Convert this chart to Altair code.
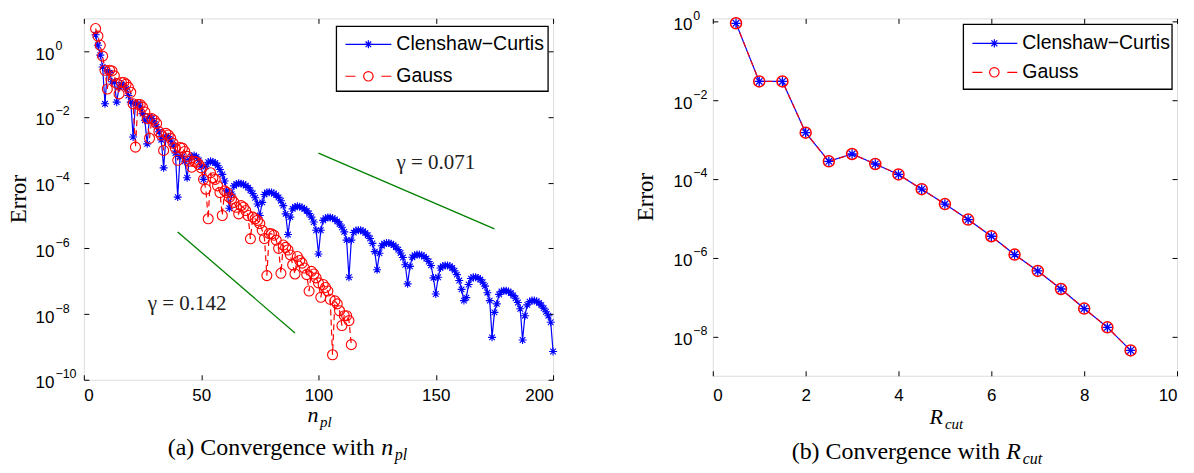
import altair as alt
import pandas as pd

# ---------------- data ----------------
series_names = ["Clenshaw−Curtis", "Gauss"]

# (a) error vs n_pl  (values are log10 of the error)
npl_cc = list(range(5, 201))
cc_log10_err = [
    0.50, 0.18, -0.12, -0.48, -1.60, -0.60, -0.65, -0.93, -0.95, -1.55,      # 5-14
    -1.09, -1.00, -1.05, -1.15, -1.35, -1.55, -2.61, -1.60, -1.60, -1.70,    # 15-24
    -1.90, -2.10, -2.82, -2.00, -2.05, -2.15, -2.30, -2.45, -2.70, -3.55,    # 25-34
    -2.60, -2.60, -2.70, -2.85, -3.10, -4.44, -3.20, -3.20, -3.35, -3.85,    # 35-44
    -3.30, -3.20, -3.17, -3.22, -3.32, -3.50, -3.90, -3.50, -3.38, -3.35,    # 45-54
    -3.37, -3.40, -3.48, -3.60, -3.75, -3.95, -4.25, -4.78, -4.35, -4.10,    # 55-64
    -4.04, -4.02, -4.03, -4.05, -4.09, -4.15, -4.23, -4.33, -4.46, -4.65,    # 65-74
    -5.00, -4.60, -4.36, -4.30, -4.29, -4.30, -4.33, -4.38, -4.45, -4.55,    # 75-84
    -4.70, -4.95, -5.58, -5.05, -4.80, -4.74, -4.72, -4.73, -4.76, -4.80,    # 85-94
    -4.86, -4.94, -5.05, -5.20, -5.45, -6.17, -5.45, -5.15, -5.08, -5.06,    # 95-104
    -5.06, -5.08, -5.12, -5.18, -5.26, -5.36, -5.50, -5.75, -6.88, -5.75,    # 105-114
    -5.52, -5.46, -5.45, -5.45, -5.48, -5.53, -5.60, -5.70, -5.85, -6.10,    # 115-124
    -6.65, -6.15, -5.92, -5.86, -5.84, -5.84, -5.86, -5.90, -5.96, -6.04,    # 125-134
    -6.14, -6.28, -6.50, -7.08, -6.55, -6.27, -6.21, -6.19, -6.19, -6.21,    # 135-144
    -6.25, -6.31, -6.40, -6.52, -6.90, -7.39, -6.88, -6.60, -6.54, -6.52,    # 145-154
    -6.52, -6.54, -6.60, -6.68, -6.80, -6.98, -7.25, -7.59, -7.50, -7.10,    # 155-164
    -6.92, -6.88, -6.88, -6.90, -6.95, -7.03, -7.15, -7.35, -7.59, -8.71,    # 165-174
    -7.95, -7.69, -7.40, -7.31, -7.29, -7.29, -7.31, -7.36, -7.43, -7.52,    # 175-184
    -7.65, -7.84, -8.79, -8.05, -7.72, -7.62, -7.59, -7.59, -7.61, -7.66,    # 185-194
    -7.73, -7.82, -7.93, -8.05, -8.25, -9.14,                                # 195-200
]
npl_gauss = list(range(5, 115))
gauss_log10_err = [
    0.69, 0.46, 0.18, -0.15, -0.58, -1.15, -0.58, -0.60, -0.75, -0.98,      # 5-14
    -1.30, -0.95, -0.95, -1.00, -1.10, -1.25, -1.60, -2.92, -1.62, -1.62,    # 15-24
    -1.70, -1.85, -2.05, -2.65, -2.05, -2.10, -2.20, -2.45, -2.55, -3.02,    # 25-34
    -2.50, -2.55, -2.65, -2.80, -2.95, -3.32, -2.93, -2.95, -3.05, -3.20,    # 35-44
    -3.35, -3.53, -3.35, -3.38, -3.45, -3.55, -3.90, -4.20, -5.10, -3.70,    # 45-54
    -3.85, -3.90, -4.10, -4.30, -5.00, -4.25, -4.30, -4.45, -4.50, -4.60,    # 55-64
    -4.75, -4.95, -4.70, -4.75, -4.85, -5.00, -5.71, -5.05, -5.10, -5.15,    # 65-74
    -5.25, -5.45, -5.70, -6.83, -5.55, -5.56, -5.60, -5.75, -6.00, -6.76,    # 75-84
    -5.90, -5.97, -6.05, -6.20, -6.50, -6.78, -6.25, -6.37, -6.45, -6.60,    # 85-94
    -6.80, -7.30, -6.70, -6.78, -6.90, -7.05, -7.49, -7.10, -7.19, -7.30,    # 95-104
    -7.55, -9.24, -7.60, -7.69, -7.90, -8.35, -8.05, -8.05, -8.20, -8.93,    # 105-114
]

# reference slopes
gamma_labels = ["γ = 0.142", "γ = 0.071"]
ref_n_start = [40, 100]
ref_n_end = [90, 175]
ref_log_start = [-5.50, -3.10]
ref_log_end = [-8.58, -5.41]
gamma_text_n = [44, 150]
gamma_text_log = [-7.68, -3.41]

# (b) error vs R_cut
rcut = [0.5, 1.0, 1.5, 2.0, 2.5, 3.0, 3.5, 4.0, 4.5, 5.0, 5.5, 6.0, 6.5, 7.0, 7.5, 8.0, 8.5, 9.0]
cc_err_rcut = [0.9, 3.0e-2, 3.0e-2, 1.5e-3, 2.8e-4, 4.3e-4, 2.4e-4, 1.3e-4, 5.5e-5,
               2.3e-5, 9.3e-6, 3.5e-6, 1.2e-6, 4.6e-7, 1.6e-7, 5.1e-8, 1.7e-8, 4.4e-9]
gauss_err_rcut = [0.9, 3.0e-2, 3.0e-2, 1.5e-3, 2.8e-4, 4.3e-4, 2.4e-4, 1.3e-4, 5.5e-5,
                  2.3e-5, 9.3e-6, 3.5e-6, 1.2e-6, 4.6e-7, 1.6e-7, 5.1e-8, 1.7e-8, 4.4e-9]

# ---------------- tables ----------------
df_cc = pd.DataFrame({"x": npl_cc, "err": [10 ** v for v in cc_log10_err]})
df_g = pd.DataFrame({"x": npl_gauss, "err": [10 ** v for v in gauss_log10_err]})
df_ref = pd.DataFrame({
    "x": ref_n_start + ref_n_end,
    "err": [10 ** v for v in ref_log_start + ref_log_end],
    "grp": [0, 1, 0, 1],
})
df_gtext = pd.DataFrame({"x": gamma_text_n, "err": [10 ** v for v in gamma_text_log], "t": gamma_labels})
df_rc = pd.DataFrame({"x": rcut, "err": cc_err_rcut})
df_rg = pd.DataFrame({"x": rcut, "err": gauss_err_rcut})
one = pd.DataFrame({"k": [0]})

BLUE, RED, GREEN = "#0000ff", "#ff0000", "#008000"
ASTER = "M0,-1L0,1M-1,0L1,0M-0.7,-0.7L0.7,0.7M-0.7,0.7L0.7,-0.7"
SANS, SERIF = "Liberation Sans", "Liberation Serif"

EXPO = ("datum.value >= 0.5 ? '0' : datum.value >= 0.005 ? '−2' : "
        "datum.value >= 5e-5 ? '−4' : datum.value >= 5e-7 ? '−6' : "
        "datum.value >= 5e-9 ? '−8' : '−10'")


def base_axis(orient, values, **extra):
    kw = dict(orient=orient, values=values, offset=-5, tickSize=5, ticks=True,
              tickColor="black", tickWidth=1, domain=False, grid=False, title=None,
              labelFont=SANS, labelColor="black")
    kw.update(extra)
    return alt.Axis(**kw)


def x_label_axis(values, pad):
    return base_axis("bottom", values, labelFontSize=17, labelPadding=pad)


def y_base_axis(values, pad):
    # the "10" part of the log labels, plus the inward ticks
    return base_axis("left", values, labelFontSize=17, labelPadding=pad,
                     labelExpr="'10'", labelOffset=3)


def y_expo_axis(values, pad):
    # the exponent part of the log labels (raised, smaller, left-aligned)
    return base_axis("left", values, labelFontSize=12.5, labelPadding=pad,
                     labelExpr=EXPO, labelAlign="left", labelOffset=-6,
                     tickOpacity=0)


def tick_axis(orient, values):
    return base_axis(orient, values, labels=False)


def legend_layers(box, row_y, line_x, mark_x, text_x, sizes):
    rect = alt.Chart(one).mark_rect(fill="white", stroke="black", strokeWidth=1.3).encode(
        x=alt.value(box[0]), x2=alt.value(box[1]), y=alt.value(box[2]), y2=alt.value(box[3]))
    l1 = alt.Chart(one).mark_rule(color=BLUE, strokeWidth=1.2).encode(
        x=alt.value(line_x[0]), x2=alt.value(line_x[1]), y=alt.value(row_y[0]))
    l2 = alt.Chart(one).mark_rule(color=RED, strokeWidth=1.2,
                                  strokeDash=[10, line_x[1] - line_x[0] - 20]).encode(
        x=alt.value(line_x[0]), x2=alt.value(line_x[1]), y=alt.value(row_y[1]))
    m1 = alt.Chart(one).mark_point(shape=ASTER, filled=False, color=BLUE, strokeWidth=1.2,
                                   size=sizes[0], opacity=1).encode(
        x=alt.value(mark_x), y=alt.value(row_y[0]))
    m2 = alt.Chart(one).mark_point(shape="circle", filled=False, color=RED, strokeWidth=1.2,
                                   size=sizes[1], opacity=1).encode(
        x=alt.value(mark_x), y=alt.value(row_y[1]))
    t1 = alt.Chart(one).mark_text(align="left", baseline="middle", font=SANS, fontSize=19.5,
                                  color="black").encode(
        x=alt.value(text_x), y=alt.value(row_y[0]), text=alt.value(series_names[0]))
    t2 = alt.Chart(one).mark_text(align="left", baseline="middle", font=SANS, fontSize=19.5,
                                  color="black").encode(
        x=alt.value(text_x), y=alt.value(row_y[1]), text=alt.value(series_names[1]))
    return [rect, l1, l2, m1, m2, t1, t2]


def text_at(x, y, s, size, style="normal", align="left", baseline="alphabetic", angle=0):
    kw = dict(align=align, baseline=baseline, font=SERIF, fontSize=size,
              fontStyle=style, color="black")
    if angle:
        kw["angle"] = angle
    return alt.Chart(one).mark_text(**kw).encode(x=alt.value(x), y=alt.value(y), text=alt.value(s))


def anchor(x, y, y2):
    # invisible rule that fixes the page extent
    return alt.Chart(one).mark_rule(opacity=0, strokeWidth=0.1).encode(
        x=alt.value(x), y=alt.value(y), y2=alt.value(y2))


# ---------------- panel (a) ----------------
WA, HA = 470, 362
xa = alt.Scale(domain=[0, 200], nice=False, zero=False)
ya = alt.Scale(type="log", domain=[1e-10, 10], nice=False)
xa_vals = [0, 50, 100, 150, 200]
ya_vals = [1e-10, 1e-8, 1e-6, 1e-4, 1e-2, 1]

a_cc_line = alt.Chart(df_cc).mark_line(color=BLUE, strokeWidth=1.2).encode(
    x=alt.X("x:Q", scale=xa, axis=x_label_axis(xa_vals, 8)),
    y=alt.Y("err:Q", scale=ya, axis=y_base_axis(ya_vals, 30)),
    order="x:Q")
a_g_line = alt.Chart(df_g).mark_line(color=RED, strokeWidth=1.2, strokeDash=[6, 4]).encode(
    x=alt.X("x:Q", scale=xa, axis=tick_axis("top", xa_vals)),
    y=alt.Y("err:Q", scale=ya, axis=tick_axis("right", ya_vals)),
    order="x:Q")
a_cc_pts = alt.Chart(df_cc).mark_point(shape=ASTER, filled=False, color=BLUE, strokeWidth=1.1,
                                       size=64, opacity=1).encode(
    x=alt.X("x:Q", scale=xa, axis=None),
    y=alt.Y("err:Q", scale=ya, axis=y_expo_axis(ya_vals, 29)))
a_g_pts = alt.Chart(df_g).mark_point(shape="circle", filled=False, color=RED, strokeWidth=1.1,
                                     size=100, opacity=1).encode(
    x=alt.X("x:Q", scale=xa, axis=None), y=alt.Y("err:Q", scale=ya, axis=None))
a_ref = alt.Chart(df_ref).mark_line(color=GREEN, strokeWidth=1.3).encode(
    x=alt.X("x:Q", scale=xa, axis=None), y=alt.Y("err:Q", scale=ya, axis=None),
    detail="grp:N")
a_gtext = alt.Chart(df_gtext).mark_text(font=SERIF, fontSize=21, color="#222222",
                                        align="center", baseline="middle").encode(
    x=alt.X("x:Q", scale=xa, axis=None), y=alt.Y("err:Q", scale=ya, axis=None), text="t:N")

a_extra = legend_layers(box=(253, 465, 8, 73), row_y=(26, 58), line_x=(262, 308),
                        mark_x=285, text_x=313, sizes=(64, 90))
a_titles = [
    text_at(-65, HA / 2, "Error", 23, align="center", baseline="middle", angle=270),
    text_at(224, 404, "n", 22, style="italic"),
    text_at(236.5, 409, "pl", 15, style="italic"),
    text_at(84, 437, "(a) Convergence with ", 24),
    text_at(298, 437, "n", 24, style="italic"),
    text_at(311.5, 442, "pl", 16, style="italic"),
    anchor(-83, -17, 456),
]

panel_a = alt.layer(a_cc_line, a_g_line, a_cc_pts, a_g_pts, a_ref, a_gtext,
                    *a_extra, *a_titles).resolve_axis(
    x="independent", y="independent").properties(width=WA, height=HA)

# ---------------- panel (b) ----------------
WB, HB = 465, 358
xb = alt.Scale(domain=[0, 10], nice=False, zero=False)
yb = alt.Scale(type="log", domain=[1e-9, 1.2], nice=False)
xb_vals = [0, 2, 4, 6, 8, 10]
yb_vals = [1e-8, 1e-6, 1e-4, 1e-2, 1]

b_cc_line = alt.Chart(df_rc).mark_line(color=BLUE, strokeWidth=1.2).encode(
    x=alt.X("x:Q", scale=xb, axis=x_label_axis(xb_vals, 12)),
    y=alt.Y("err:Q", scale=yb, axis=y_base_axis(yb_vals, 21)),
    order="x:Q")
b_g_line = alt.Chart(df_rg).mark_line(color=RED, strokeWidth=1.2, strokeDash=[6, 4]).encode(
    x=alt.X("x:Q", scale=xb, axis=tick_axis("top", xb_vals)),
    y=alt.Y("err:Q", scale=yb, axis=tick_axis("right", yb_vals)),
    order="x:Q")
b_cc_pts = alt.Chart(df_rc).mark_point(shape=ASTER, filled=False, color=BLUE, strokeWidth=1.3,
                                       size=90, opacity=1).encode(
    x=alt.X("x:Q", scale=xb, axis=None),
    y=alt.Y("err:Q", scale=yb, axis=y_expo_axis(yb_vals, 20)))
b_g_pts = alt.Chart(df_rg).mark_point(shape="circle", filled=False, color=RED, strokeWidth=1.5,
                                      size=121, opacity=1).encode(
    x=alt.X("x:Q", scale=xb, axis=None), y=alt.Y("err:Q", scale=yb, axis=None))

b_extra = legend_layers(box=(251, 460, 6, 71), row_y=(25, 54), line_x=(260, 305),
                        mark_x=282, text_x=310, sizes=(70, 90))
b_titles = [
    text_at(-67, HB / 2, "Error", 23, align="center", baseline="middle", angle=270),
    text_at(217, 406, "R", 22, style="italic"),
    text_at(232.5, 411, "cut", 15, style="italic"),
    text_at(79, 441, "(b) Convergence with ", 24),
    text_at(294, 441, "R", 24, style="italic"),
    text_at(310.5, 446, "cut", 16, style="italic"),
    anchor(481, -17, 456),
]

panel_b = alt.layer(b_cc_line, b_g_line, b_cc_pts, b_g_pts,
                    *b_extra, *b_titles).resolve_axis(
    x="independent", y="independent").properties(width=WB, height=HB)

chart = alt.hconcat(panel_a, panel_b, spacing=160, bounds="flush").properties(
    padding=0,
).configure_view(stroke="black", strokeWidth=1.3).configure(background="white")

chart.save("out.html", embed_options={"renderer": "svg", "actions": False})
